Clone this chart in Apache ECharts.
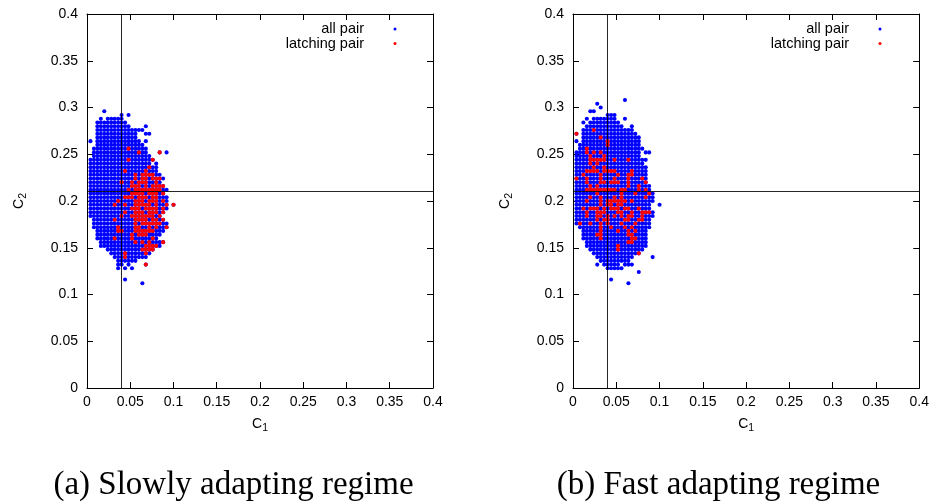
<!DOCTYPE html>
<html>
<head>
<meta charset="utf-8">
<script src="https://cdn.jsdelivr.net/npm/echarts@6/dist/echarts.min.js"></script>
<style>
html,body{margin:0;padding:0;background:#fff;}
#chart{width:932px;height:503px;}
</style>
</head>
<body>
<div id="chart"></div>
<script>
// C1 grid columns (step 0.004)
const c1Levels = [0.000,0.004,0.008,0.012,0.016,0.020,0.024,0.028,0.032,0.036,0.040,0.044,0.048,0.052,0.056,0.060,0.064,0.068,0.072,0.076,0.080,0.084,0.088,0.092,0.096,0.100];
// C2 grid rows, top to bottom
const c2Levels = [0.308,0.304,0.300,0.296,0.292,0.288,0.284,0.280,0.276,0.272,0.268,0.264,0.260,0.256,0.252,0.248,0.244,0.240,0.236,0.232,0.228,0.224,0.220,0.216,0.212,0.208,0.204,0.200,0.196,0.192,0.188,0.184,0.180,0.176,0.172,0.168,0.164,0.160,0.156,0.152,0.148,0.144,0.140,0.136,0.132,0.128,0.124,0.120,0.116,0.112];

// occupancy maps: 'b' = all pair only, 'r' = latching pair (also an all pair), '.' = none
const mapSlow = [
"..........................",
"..........................",
"..........................",
".....b....................",
"..........b.b.............",
"....b.bbbbb...............",
"...bbbbbbbbb..............",
"...bbbbbbbbbb....b........",
"...bbbbbbbbbbbbbb.........",
"...bbbbbbbbbbbb..bb.......",
"...bbbbbbbbbbbb...........",
".b.bbbbbbbbbbbbb.b........",
"...bbbbbbbbbbbbbb.........",
"..bbbbbbbbbbrbbbbb........",
"..bbbbbbbbbbbbbrbb...r.b..",
"..bbbbbbbbbbbbbbbbb.......",
".bbbbbbbbbbbrbbbbbbr......",
".bbbbbbbbbbbbbbbbbb.b.....",
".bbbbbbbbbbbbbbbbbrbb.....",
".bbbbbbbbbbrbbbbbrbbb.....",
".bbbbbbbbbbbbbrbrrrrbb....",
".bbbbbbbbbbbbbrbrrbrrrb...",
".bbbbbbbbbrbbrbrrrbbrb....",
".bbbbbbbbbbbbrrrbrbrrrr...",
".bbbbbbbbbbbrbrrrrrrrrbb..",
".bbbbbbbbbbbbrrrrbrrrbr...",
".bbbbbbbbbbrrrbrrrbrrbbb..",
".bbbbbbbbrbbbbrrrbrrrbrb..",
".bbbbbbbrbbrbbrrrrrbrbbr.r",
".bbbbbbbbbbbbrrrbrrrrbrb..",
".bbbbbbbbbbrbbrrrbrrrbr...",
".bbbbbbbbbrbbrrrrrrrbr....",
"..bbbbbbrbbbbbrrrrbrrbr...",
"..bbbbbbbbbbbbrbrrrrrrbb..",
"..bbbbbbbrbbbbrrbbrbrbbr..",
"...bbbbbbrrbbbrrrrrrbbb...",
"...bbbbbbbbbbrbrrrbbbb....",
"...bbbbbrbbbbrbbbbbrb.....",
"....bbbbbbbbbbrbrbrbbbr...",
"....bbbbbbbbbbbbbrrrrb....",
"......bbbbbbbbbbrrrr......",
".......bbbbrbbbbbrb.......",
"........bbbrbbbbbb........",
".........bbbbbb...........",
".........bb.b....r........",
".........b.b.b............",
"..........................",
"..........................",
"...........b..............",
"................b........."
];
const mapFast = [
"...............b..........",
".......b..................",
"........b.................",
".....bb...................",
"..........bbb.............",
"....b.bbbbbbb..b..........",
"...b.bbbbbbbbb............",
"....bbbbbbbbbbb..b........",
"...bbbrbbbbbbbbbbb........",
".r.bbbbbbbbbbbbbbbb.......",
"...bbbbbrbbbbbbbbbbb......",
".b.bbbbbbbrbbbbbbbbb......",
"..bbbbbbbbrbbbbbbbbb......",
"..bbrbbbbbbbbbbbbbbbb.....",
".bbbrbrbrbbbbbbbbbbb.bb...",
".bbbbrbbbrbbbbbbbbbb......",
".bbbbrrrrrbbrbbbrbbbbb....",
".bbbbrbrbbbbbbbbbbbbb.....",
".bbbbbrbbrbbbbbbbbbbbb....",
".bbbrrrrbrrrrbbbbrbbbb....",
".bbrbbbbrbbbbrbbrrbbbb....",
".rbbrbbbrbbbrbbbrbbbrb....",
".bbbrbbbrrbrrrbbrbbbbr....",
".bbbbrbrbbbbbbbbrbbrbbb...",
".bbbrrrrrrrrrbrrbbbrbrb...",
".bbbbbbrbbbbbbrbbbrbbbrb..",
".bbbbrbbrbbbrbrbbbbbbrbb..",
".bbbrbbbrbrrrrrrbrbbbbbb..",
".bbbbbbbrbrrbrrbbbbbbbb..b",
".bbrbrrrbrbrrrbrrbbrbbb...",
".bbbrbbrrrbbbrrbbrbbrrrb..",
".bbbrbbrrbrbrbrbrrbbrbbb..",
".bbbbbbrbrrbbbbrrbbrrbb...",
".brbbrbbrbrbbbrbbbrbbbb...",
"..bbbbbbrbbrbbbrbrbbbbb...",
"...bbbbbrbbbbrbbrbrbbb....",
"...bbbbrrbbbbbbbrrbbbb....",
"...bbbbbrbbbbbbbbrrbbb....",
"....bbbbbbbbbbbbrrbbbb....",
"....bbbbbbbbbrbbbbbbbb....",
".....bbbbbbbbrbbbbbbb.....",
"......bbbbbbbbbbbbbr......",
".......bbbbbbbbbbb.....b..",
"........bbbbbbbbb.........",
".......b.bbbbb.bbb........",
"..........bbbbb...........",
"...................b......",
"..........................",
"...........b..............",
"................b........."
];

// reference lines
const lineC1 = 0.041;
const lineC2 = 0.208;

// axis ticks
const axisMin = 0, axisMax = 0.4, axisStep = 0.05;

const seriesNames = ['all pair', 'latching pair'];
const captions = ['(a) Slowly adapting regime', '(b) Fast adapting regime'];

function decode(map) {
  const all = [], latch = [];
  map.forEach((row, r) => {
    for (let c = 0; c < row.length; c++) {
      const ch = row[c];
      if (ch === 'b' || ch === 'r') all.push([c1Levels[c], c2Levels[r]]);
      if (ch === 'r') latch.push([c1Levels[c], c2Levels[r]]);
    }
  });
  return { all, latch };
}

const panels = [decode(mapSlow), decode(mapFast)];

const FONT = 'Liberation Sans';
const grids = [
  { left: 87, top: 14, width: 346, height: 374 },
  { left: 573, top: 14, width: 347, height: 374 }
];

function axisName(sub) {
  return '{c|C}{s|' + sub + '}';
}
const nameRich = {
  c: { fontSize: 14, fontFamily: FONT, color: '#000' },
  s: { fontSize: 10.5, fontFamily: FONT, color: '#000', padding: [8, 0, 0, 0] }
};

const xAxes = [], yAxes = [], series = [], legends = [], titles = [];
const legendPos = [
  { right: 535.5 },
  { right: 50.5 }
];
const captionX = [233.5, 718.5];

grids.forEach((g, gi) => {
  const base = {
    type: 'value', gridIndex: gi, min: axisMin, max: axisMax, interval: axisStep,
    splitLine: { show: false },
    axisLine: { show: true, onZero: false, lineStyle: { color: '#000', width: 1 } },
    axisTick: { show: true, inside: true, length: 6, lineStyle: { color: '#000', width: 1 } }
  };
  xAxes.push(Object.assign({}, base, {
    position: 'bottom',
    axisLabel: { color: '#000', fontSize: 14, fontFamily: FONT, margin: 7 },
    name: axisName('1'), nameLocation: 'middle', nameGap: 27,
    nameTextStyle: { rich: nameRich }
  }));
  xAxes.push(Object.assign({}, base, { position: 'top', axisLabel: { show: false } }));
  yAxes.push(Object.assign({}, base, {
    position: 'left',
    axisLabel: { color: '#000', fontSize: 14, fontFamily: FONT, margin: 9 },
    name: axisName('2'), nameLocation: 'middle', nameGap: 58,
    nameTextStyle: { rich: nameRich }
  }));
  yAxes.push(Object.assign({}, base, { position: 'right', axisLabel: { show: false } }));

  const xi = gi * 2, yi = gi * 2;
  series.push({
    type: 'scatter', xAxisIndex: xi, yAxisIndex: yi, data: [], z: 1, silent: true,
    markLine: {
      silent: true, symbol: ['none', 'none'], label: { show: false },
      lineStyle: { color: '#000', width: 1, type: 'solid', opacity: 0.85 },
      data: [{ xAxis: lineC1 }, { yAxis: lineC2 }]
    }
  });
  series.push({
    type: 'scatter', name: seriesNames[0], xAxisIndex: xi, yAxisIndex: yi,
    data: panels[gi].all, symbol: 'circle', symbolSize: 4.1, z: 2,
    itemStyle: { color: '#0000ff', opacity: 1 }
  });
  series.push({
    type: 'scatter', name: seriesNames[1], xAxisIndex: xi, yAxisIndex: yi,
    data: panels[gi].latch, symbol: 'circle', symbolSize: 4.1, z: 3,
    itemStyle: { color: '#ff0000', opacity: 1 }
  });

  seriesNames.forEach((nm, ni) => {
    legends.push({
      data: [nm], orient: 'vertical', align: 'right', right: legendPos[gi].right,
      top: 21.5 + ni * 14.5, padding: 0, itemWidth: 3, itemHeight: 3, icon: 'circle',
      selectedMode: false,
      textStyle: { fontSize: 14.5, fontFamily: FONT, color: '#000', lineHeight: 14, padding: [0, 24.5, 0, 0] }
    });
  });

  titles.push({
    text: captions[gi], left: captionX[gi], top: 469, textAlign: 'center', padding: 0,
    textStyle: { fontFamily: 'Liberation Serif', fontSize: 33, fontWeight: 'normal', color: '#000' }
  });
});

const chart = echarts.init(document.getElementById('chart'), null, { renderer: 'canvas' });
chart.setOption({
  animation: false,
  backgroundColor: '#fff',
  title: titles,
  legend: legends,
  grid: grids,
  xAxis: xAxes,
  yAxis: yAxes,
  series: series
});
</script>
</body>
</html>
